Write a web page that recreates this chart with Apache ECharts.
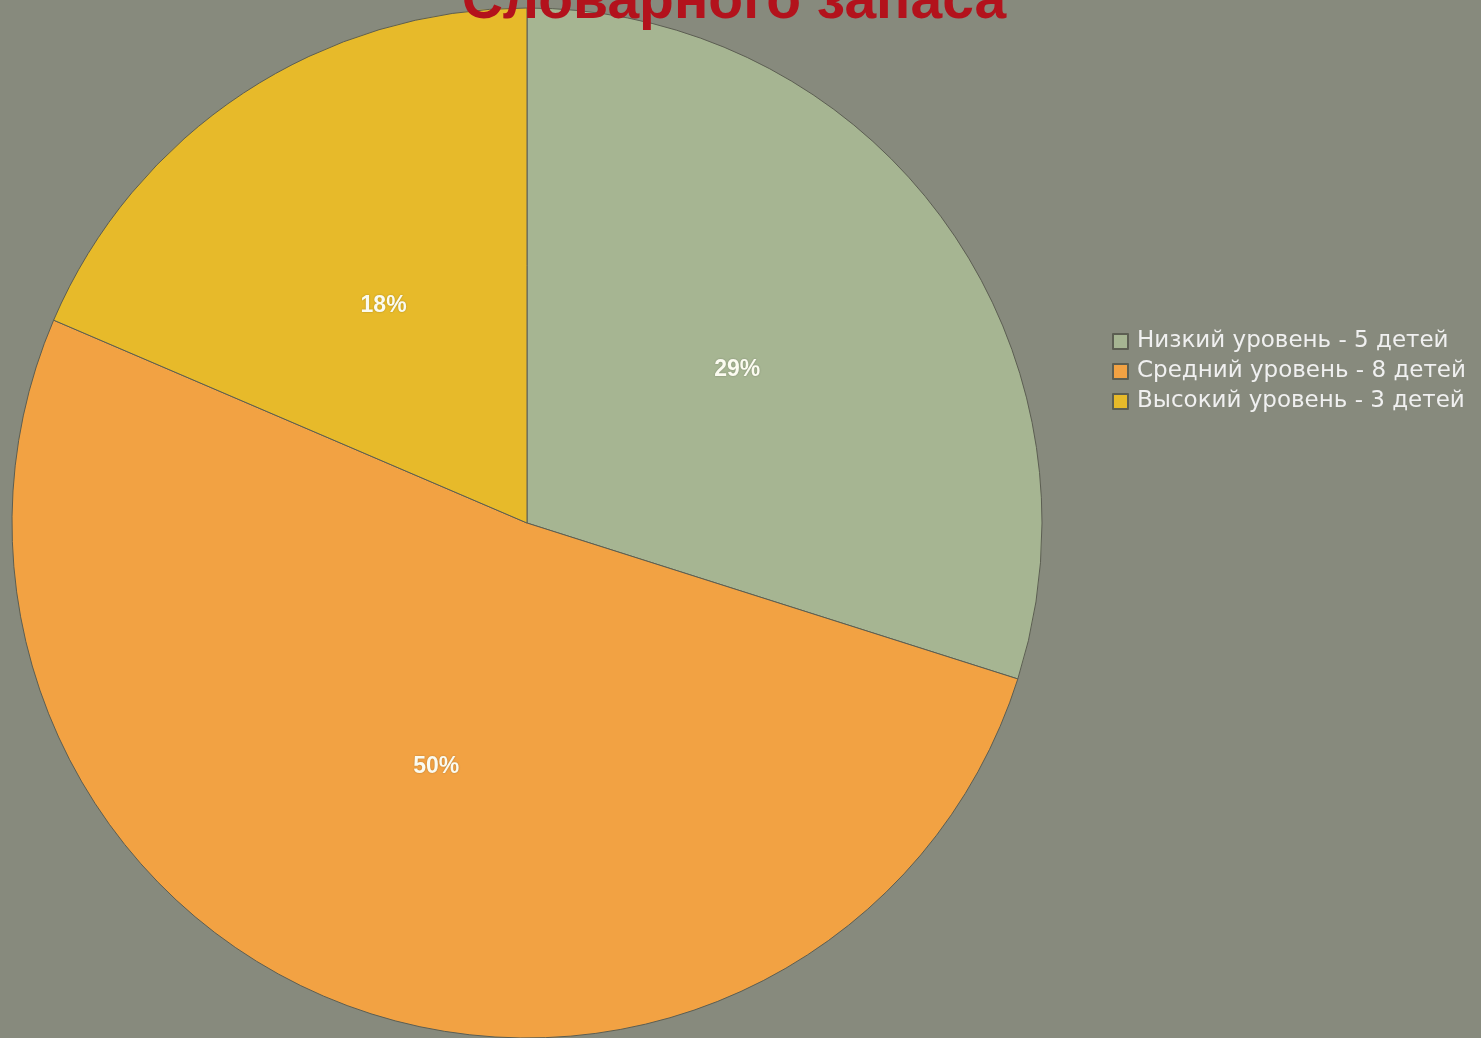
<!DOCTYPE html>
<html>
<head>
<meta charset="utf-8">
<script src="https://cdn.jsdelivr.net/npm/echarts@6/dist/echarts.min.js"></script>
<style>
  html, body { margin: 0; padding: 0; background: #878a7d; }
  #chart { width: 1481px; height: 1038px; }
</style>
</head>
<body>
<div id="chart"></div>
<script>
const names = ['Низкий уровень - 5 детей', 'Средний уровень - 8 детей', 'Высокий уровень - 3 детей']
const values = [29, 50, 18]
const colors = ['#a6b592', '#f2a243', '#e7ba2a']

const chart = echarts.init(document.getElementById('chart'))
chart.setOption({
  backgroundColor: '#878a7d',
  title: {
    text: 'Словарного запаса',
    left: 734,
    textAlign: 'center',
    top: -26,
    padding: 0,
    textStyle: {
      color: '#b3121c',
      fontSize: 57,
      fontWeight: 'bold',
      fontFamily: 'Liberation Sans'
    }
  },
  legend: {
    orient: 'vertical',
    left: 1112,
    top: 330,
    padding: 0,
    itemWidth: 15,
    itemHeight: 15,
    itemGap: 7,
    icon: 'rect',
    textStyle: {
      color: '#f0f0f0',
      fontSize: 23,
      fontFamily: 'DejaVu Sans',
      padding: [0, 0, 0, 4]
    },
    data: names
  },
  series: [{
    type: 'pie',
    center: [527, 523],
    radius: 515,
    startAngle: 90,
    clockwise: true,
    color: colors,
    itemStyle: {
      borderColor: '#5c5e52',
      borderWidth: 1
    },
    label: {
      position: 'inside',
      formatter: p => p.value + '%',
      color: '#fbfbf0',
      fontSize: 23,
      fontWeight: 'bold',
      fontFamily: 'Liberation Sans',
      textShadowColor: 'rgba(0,0,0,0.25)',
      textShadowBlur: 2
    },
    labelLine: { show: false },
    emphasis: { disabled: true },
    data: names.map((n, i) => ({ name: n, value: values[i] }))
  }]
})
</script>
</body>
</html>
